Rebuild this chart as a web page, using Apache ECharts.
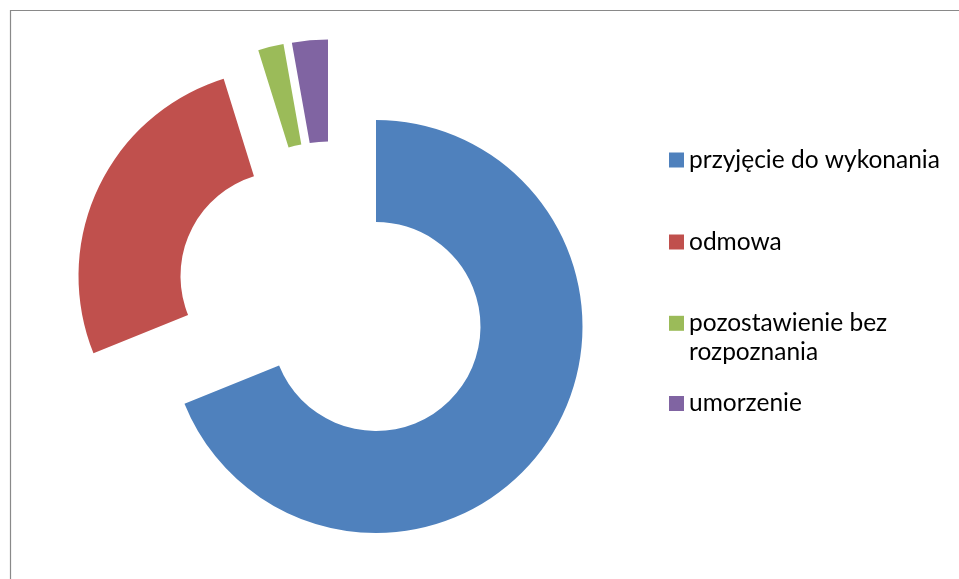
<!DOCTYPE html>
<html>
<head>
<meta charset="utf-8">
<script src="https://cdn.jsdelivr.net/npm/echarts@6/dist/echarts.min.js"></script>
<style>
  html, body { margin: 0; padding: 0; background: #ffffff; }
  #chart { width: 959px; height: 579px; }
</style>
</head>
<body>
<div id="chart"></div>
<script>
// Share of each outcome (percent of all cases)
const categories = ['przyjęcie do wykonania', 'odmowa', 'pozostawienie bez rozpoznania', 'umorzenie'];
const shares = [68.9, 26.3, 2.0, 2.8];
const legendLabels = ['przyjęcie do wykonania', 'odmowa', 'pozostawienie bez\nrozpoznania', 'umorzenie'];

const palette = ['#4F81BD', '#C0504D', '#9BBB59', '#8064A2'];

// Every ring segment is its own series with its own centre, so the
// smaller segments can be pulled out of the ring.
const sliceCenters = [[376, 326.5], [285, 276], [319.6, 247.4], [328, 246]];
const ringRadius = [104.5, 206.5];

// Legend layout: vertical centre of each marker
const legendIconCenters = [160, 242, 323.3, 403.5];
const legendLineHeight = 28.5;
const legendIconSize = 15;

const chart = echarts.init(document.getElementById('chart'), null, { renderer: 'canvas' });

const series = categories.map((_, i) => ({
  type: 'pie',
  name: categories[i],
  center: sliceCenters[i],
  radius: ringRadius,
  startAngle: 90,
  clockwise: true,
  silent: true,
  animation: false,
  avoidLabelOverlap: false,
  label: { show: false },
  labelLine: { show: false },
  emphasis: { disabled: true },
  itemStyle: { borderWidth: 0, borderRadius: 0 },
  data: categories.map((name, j) => ({
    name: name,
    value: shares[j],
    itemStyle: { color: j === i ? palette[j] : 'rgba(0,0,0,0)' }
  }))
}));

const legends = categories.map((name, i) => {
  const lines = legendLabels[i].split('\n').length;
  // leading blank lines keep the marker level with the first text line
  const text = '\n'.repeat(lines - 1) + legendLabels[i];
  const totalLines = lines * 2 - 1;
  const boxHalf = legendLineHeight * totalLines / 2;
  const offset = Math.max(0, boxHalf - legendIconSize / 2);
  return {
    orient: 'vertical',
    left: 669,
    top: legendIconCenters[i] - legendIconSize / 2 - offset,
    padding: 0,
    icon: 'rect',
    itemWidth: legendIconSize,
    itemHeight: legendIconSize,
    selectedMode: false,
    formatter: () => text,
    textStyle: {
      fontFamily: 'Lato, "Noto Sans", sans-serif',
      fontSize: 24.5,
      color: '#000000',
      lineHeight: legendLineHeight
    },
    data: [{ name: name, itemStyle: { color: palette[i] } }]
  };
});

chart.setOption({
  animation: false,
  backgroundColor: '#ffffff',
  legend: legends,
  series: series,
  graphic: [{
    type: 'rect',
    silent: true,
    shape: { x: 10.5, y: 10.5, width: 1000, height: 1000 },
    style: { fill: 'none', stroke: '#898989', lineWidth: 1.2 }
  }]
});
</script>
</body>
</html>
